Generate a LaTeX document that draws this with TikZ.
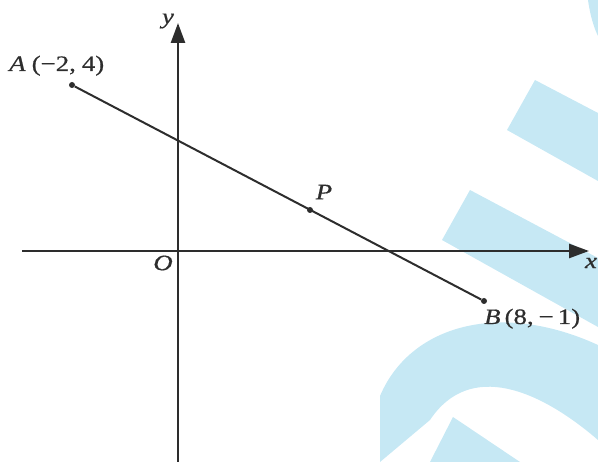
\documentclass[tikz,border=0pt]{standalone}
\usepackage{fontspec}
\setmainfont{Liberation Serif}[FakeStretch=1.22, FakeBold=0.6]
\usetikzlibrary{arrows.meta}
\definecolor{wmblue}{RGB}{198,232,244}
\definecolor{ink}{RGB}{45,45,45}

\begin{document}
\begin{tikzpicture}[x=1pt, y=-1pt,
  axis/.style={line width=2.6pt, ink, -{Triangle[length=20pt, width=14pt]}},
  seg/.style={line width=2pt, ink},
  dot/.style={circle, fill=ink, inner sep=0pt, minimum size=6pt},
  lbl/.style={inner sep=0pt, ink, font={\fontsize{22}{22}\selectfont}}]
\useasboundingbox (0,0) rectangle (598,462);
% watermark bands
\fill[wmblue] (535,80) -- (598,113) -- (598,181) -- (507,130) -- cycle;
\fill[wmblue] (470,190) -- (598,258) -- (598,327) -- (442,240) -- cycle;
\fill[wmblue] (380,396) .. controls (410,325) and (500,300) .. (598,345)
  -- (598,440) .. controls (540,390) and (470,360) .. (430,420) -- (380,462) -- cycle;
\fill[wmblue] (453,417) -- (520,462) -- (430,462) -- cycle;
\fill[wmblue] (588,0) .. controls (590,15) and (594,28) .. (598,36) -- (598,0) -- cycle;
% axes
\coordinate (xl) at (22,251);
\coordinate (xr) at (589,251);
\coordinate (yb) at (178,462);
\coordinate (yt) at (178,23);
\draw[axis] (xl) -- (xr);
\draw[axis] (yb) -- (yt);
% points
\node[dot] (A) at (72,85) {};
\node[dot] (B) at (484,301) {};
\node[dot] (P) at (310,210) {};
\draw[seg] (A) -- (B);
% labels
\node[lbl, anchor=base west] (Alab) at (9,71) {\textit{A}\hspace{6pt}(−2,\hspace{6pt}4)};
\node[lbl, anchor=base west] (Blab) at (484,324) {\textit{B}\hspace{4pt}(8,\hspace{5pt}−\hspace{4pt}1)};
\node[lbl] (Plab) at (324,192) {\textit{P}};
\node[lbl] (Olab) at (163,263) {\textit{O}};
\node[lbl] (ylab) at (168,21) {\textit{y}};
\node[lbl] (xlab) at (591,263) {\textit{x}};
\end{tikzpicture}
\end{document}
